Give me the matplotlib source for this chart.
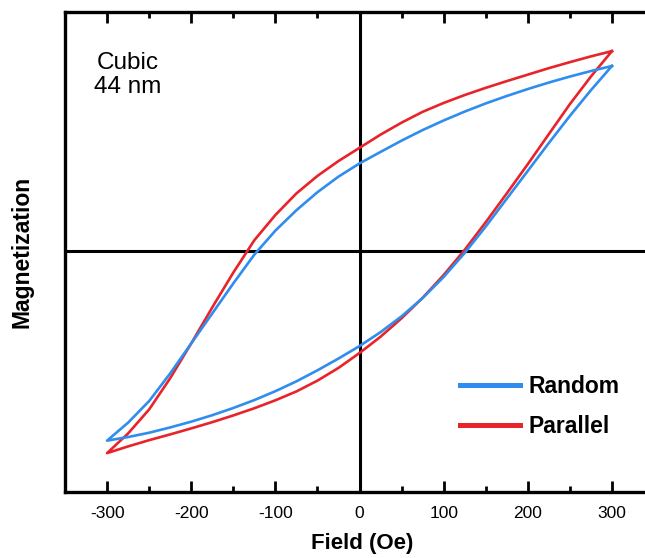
import matplotlib
matplotlib.use("Agg")
import matplotlib.pyplot as plt
from matplotlib.ticker import MultipleLocator

plt.rcParams['font.family'] = ['Liberation Sans', 'DejaVu Sans']

# field sweep (Oe): descending branch, then ascending branch
field_down = [300, 275, 250, 225, 200, 175, 150, 125, 100, 75, 50, 25, 0,
              -25, -50, -75, -100, -125, -150, -175, -200, -225, -250, -275, -300]
field_up = [-300, -275, -250, -225, -200, -175, -150, -125, -100, -75, -50, -25, 0,
            25, 50, 75, 100, 125, 150, 175, 200, 225, 250, 275, 300]

# magnetization (arb. units)
random_down = [0.771, 0.750, 0.727, 0.702, 0.675, 0.646, 0.615, 0.581, 0.544, 0.504,
               0.460, 0.413, 0.365, 0.310, 0.245, 0.170, 0.085, -0.015, -0.135,
               -0.260, -0.385, -0.510, -0.625, -0.715, -0.790]
random_up = [-0.790, -0.775, -0.757, -0.735, -0.711, -0.684, -0.654, -0.621, -0.584,
             -0.543, -0.497, -0.448, -0.396, -0.338, -0.272, -0.196, -0.108, -0.008,
             0.102, 0.218, 0.334, 0.450, 0.563, 0.670, 0.771]
parallel_down = [0.833, 0.811, 0.787, 0.762, 0.735, 0.708, 0.680, 0.650, 0.617, 0.580,
                 0.535, 0.485, 0.430, 0.375, 0.313, 0.240, 0.150, 0.045, -0.090,
                 -0.235, -0.385, -0.530, -0.660, -0.760, -0.842]
parallel_up = [-0.842, -0.814, -0.788, -0.764, -0.739, -0.713, -0.685, -0.655, -0.622,
               -0.585, -0.540, -0.487, -0.425, -0.357, -0.280, -0.195, -0.100, 0.005,
               0.120, 0.240, 0.362, 0.487, 0.612, 0.727, 0.833]

fig = plt.figure(figsize=(6.45, 5.58), dpi=100)
ax = fig.add_axes([65 / 645, 66 / 558, 589 / 645, 480 / 558])

c_blue = '#2e8ded'
c_red = '#e8232a'

ax.axhline(0, color='black', lw=2.2, zorder=1)
ax.axvline(0, color='black', lw=2.2, zorder=1)

ax.plot(field_down + field_up, random_down + random_up, color=c_blue, lw=1.9,
        label='Random', zorder=3, solid_joinstyle='round')
ax.plot(field_down + field_up, parallel_down + parallel_up, color=c_red, lw=1.9,
        label='Parallel', zorder=2, solid_joinstyle='round')

ax.set_xlim(-350, 350)
ax.set_ylim(-1.004, 0.996)

ax.xaxis.set_major_locator(MultipleLocator(100))
ax.xaxis.set_minor_locator(MultipleLocator(50))
ax.tick_params(axis='x', which='both', direction='in', top=True, bottom=True,
               width=2, labelsize=12.5, pad=10)
ax.tick_params(axis='x', which='major', length=8)
ax.tick_params(axis='x', which='minor', length=4)
ax.set_yticks([])
for s in ax.spines.values():
    s.set_linewidth(2.4)

ax.xaxis.set_major_formatter(matplotlib.ticker.FuncFormatter(lambda v, p: '%d' % v))

ax.set_xlabel('Field (Oe)', fontsize=16, fontweight='bold')
ax.xaxis.set_label_coords(0.504, -0.086)
ax.set_ylabel('Magnetization', fontsize=16.5, fontweight='bold')
ax.yaxis.set_label_coords(-0.053, 0.5)

ax.text(0.107, 0.868, 'Cubic\n44 nm', transform=ax.transAxes, fontsize=17.5,
        ha='center', va='center', multialignment='center', linespacing=1.12)

leg = ax.legend(loc='upper left', bbox_to_anchor=(0.671, 0.244), frameon=False,
                borderpad=0, borderaxespad=0, handlelength=2.6, handletextpad=0.4,
                labelspacing=0.75, prop={'size': 16.5, 'weight': 'bold'})
for ln in leg.get_lines():
    ln.set_linewidth(3.6)

fig.savefig('out.png', dpi=100)
